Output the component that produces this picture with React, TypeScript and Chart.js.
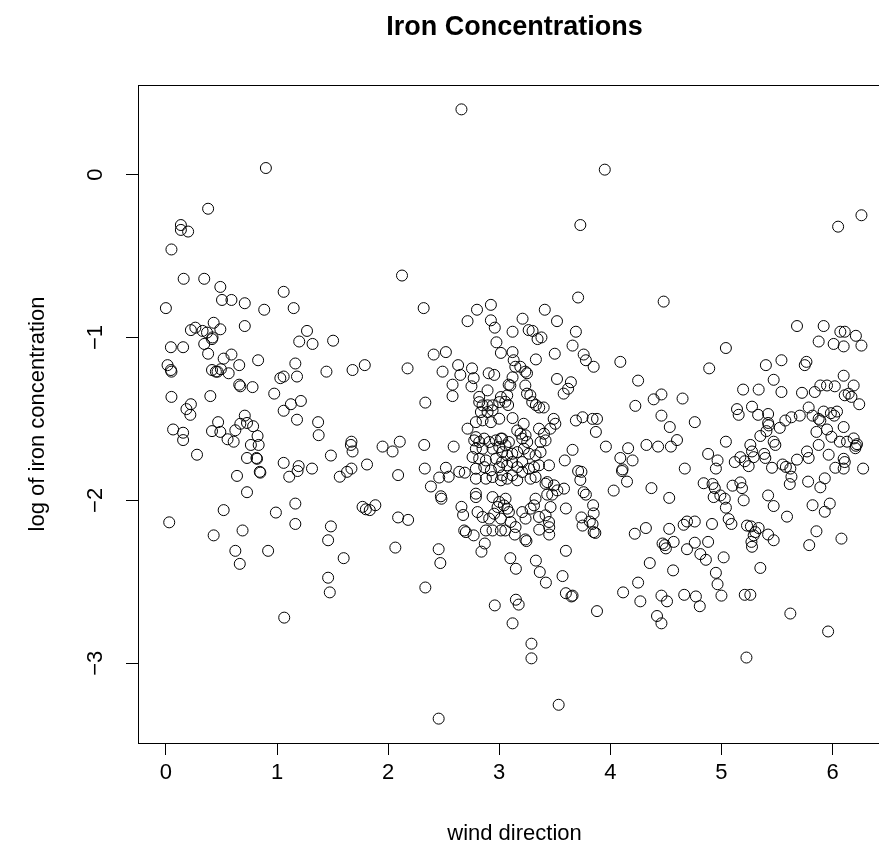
import React, { useEffect, useRef } from "react";
import { Chart, registerables } from "chart.js";

Chart.register(...registerables);

const chartTitle = "Iron Concentrations";
const xAxisLabel = "wind direction";
const yAxisLabel = "log of iron concentration";

const xTicks = [0, 1, 2, 3, 4, 5, 6];
const xTickLabels = ["0", "1", "2", "3", "4", "5", "6"];
const yTicks = [-3, -2, -1, 0];
const yTickLabels = ["\u22123", "\u22122", "\u22121", "0"];

// wind direction (radians)
const windDirection = [
  // top area
  0.90, 0.38, 0.135, 0.135, 0.20, 0.05, 0.16, 0.345, 0.49, 1.06, 0.505, 0.59, 0.71, 0.0, 0.885, 1.15,
  2.66, 2.125, 2.32, 2.80, 2.925, 3.95, 3.73, 3.71, 4.48, 3.41, 6.26, 6.05,
  // west block
  0.43, 0.225, 0.265, 0.33, 0.37, 0.42, 0.415, 0.49, 0.71, 1.27, 1.20, 1.32, 0.045, 0.155, 0.345, 0.38, 0.52, 0.59, 0.66, 0.83,
  1.165, 0.015, 0.045, 0.05, 0.415, 0.45, 0.495, 0.465, 0.565, 1.18, 1.03, 1.06, 0.66, 0.67, 0.78, 0.975, 0.05, 0.40, 0.225, 0.185,
  0.22, 1.215, 1.125, 1.06, 1.18, 1.37, 1.375, 0.71, 0.065, 0.155, 0.155, 0.47, 0.415, 0.49, 0.625, 0.67, 0.73, 0.785, 0.825, 0.555,
  0.61, 0.765, 0.835, 0.28, 0.73, 0.815, 0.82, 0.845, 0.85, 1.06, 1.195, 1.185, 1.11, 1.315, 0.64, 0.73, 0.52, 0.99, 1.165, 1.165, 0.03,
  0.43, 0.69, 0.625, 0.92, 0.665, 1.065,
  // middle block
  2.715, 2.925, 2.96, 2.975, 3.015, 1.505, 2.41, 2.52, 1.445, 1.68, 1.79, 2.175, 2.49, 2.63, 2.65, 2.755, 2.77, 2.58, 2.58, 2.75,
  2.905, 2.955, 2.895, 2.82, 2.335, 1.67, 1.665, 1.68, 1.485, 1.95, 2.04, 2.105, 2.325, 2.59, 1.81, 1.67, 1.63, 1.565, 2.09, 2.33,
  2.52, 2.545, 2.46, 2.64, 2.69, 2.385, 2.475, 2.48, 2.715, 1.77, 1.80, 1.835, 1.885, 2.09, 2.18, 1.485, 2.66, 2.675,
  1.46, 1.60, 1.46, 1.475, 2.065, 2.455, 2.47, 2.335, 2.96, 2.455, 2.685, 2.70, 2.77, 2.88, 2.94, 3.015, 2.87, 2.84,
  // lower middle
  3.055, 3.14, 3.235, 3.245, 3.36, 3.45, 3.45, 3.60, 3.10, 3.15, 3.33, 3.365, 3.42, 3.57, 3.60, 3.65, 3.66, 3.88, 3.15, 3.175,
  3.12, 3.29, 3.29, 3.535, 3.85, 3.865, 3.75, 4.22, 4.32, 4.53, 4.47, 4.49, 4.50, 4.57, 4.69, 4.355, 4.565, 4.25, 4.115, 4.27,
  4.46, 4.51, 4.42, 4.46, 4.665,
  // lower east
  5.335, 5.305, 5.29, 5.27, 5.275, 5.42, 5.47, 5.855, 5.79, 6.08, 4.76, 4.88, 4.81, 4.86, 5.02, 5.35, 4.95, 4.965, 5.00, 4.77,
  4.805, 5.21, 5.26, 5.62, 5.96, 5.225,
  // upper middle-east
  3.21, 3.52, 3.12, 3.265, 3.30, 3.345, 3.38, 3.69, 3.66, 3.12, 3.33, 3.50, 3.76, 3.78, 3.85, 4.09, 3.13, 3.145, 3.19, 3.235,
  3.25, 3.12, 3.10, 3.085, 3.235, 3.52, 3.645, 3.62, 3.58, 4.25, 3.25, 3.28, 3.055, 3.08, 3.33, 3.36, 3.40, 4.225, 4.39, 4.46,
  4.65, 3.12, 3.22, 3.49, 3.505, 3.46, 3.69, 3.75, 3.84, 3.88, 3.87, 4.46, 4.535, 4.60, 4.545, 4.43, 4.325, 4.16, 4.09, 4.20,
  4.11, 4.105, 4.15, 3.96, 3.66, 3.59, 3.71, 3.74, 3.73, 3.76, 3.78, 4.03, 4.37, 4.53, 4.67, 3.60, 3.74, 3.815, 3.84, 3.845,
  3.85, 4.66,
  // east block
  5.68, 5.92, 6.07, 6.11, 6.21, 5.875, 6.01, 6.10, 6.26, 5.04, 4.89, 5.40, 5.54, 5.75, 5.765, 5.47, 5.195, 5.335, 5.54, 5.725,
  5.84, 5.89, 5.95, 6.02, 6.10, 6.19, 6.11, 6.145, 6.17, 6.24, 5.14, 5.155, 5.275, 5.33, 5.42, 5.42, 5.425, 5.525, 5.575, 5.63,
  5.705, 5.785, 5.82, 5.875, 5.89, 5.92, 5.985, 6.04, 6.015, 6.10, 5.855, 5.95, 5.99, 6.065, 6.13, 6.19, 6.21, 6.22, 6.205, 5.875,
  5.965, 5.77, 5.785, 6.10, 6.11, 6.10, 6.025, 6.275, 5.68, 5.78, 5.89, 5.93, 5.82, 5.975, 5.93, 5.59, 5.42, 5.47, 5.455, 5.55,
  5.58, 5.62, 5.63, 5.615, 5.35, 5.26, 5.275, 5.29, 5.385, 5.395, 5.47, 5.485, 5.405, 5.17, 5.12, 5.245, 5.21, 5.04, 4.88, 4.965,
  4.95, 4.76, 4.84, 4.92, 4.94, 5.10, 5.17, 5.185, 4.93, 4.99, 5.03, 5.04, 5.20, 4.69, 4.76, 4.915, 5.065, 5.09, 5.23, 5.265,
  // dense cluster near 3 (west side)
  2.82, 2.85, 2.895, 2.94, 3.0, 3.015, 2.835, 2.895, 2.94, 2.79, 2.85, 2.925, 3.0, 2.79, 2.775, 2.82, 2.865, 2.91, 2.97, 3.015,
  2.79, 2.85, 2.94, 3.0, 2.76, 2.82, 2.88, 2.97, 2.79, 2.865, 2.925, 3.0, 2.79, 2.88, 2.94, 3.015, 2.79, 2.79, 2.94, 3.0,
  2.985, 2.805, 2.85, 2.91, 2.955, 3.015,
  // dense cluster near 3 (east side)
  3.072, 3.297, 3.162, 3.192, 3.237, 3.207, 3.252, 3.358, 3.403, 3.372, 3.417, 3.027, 3.057, 3.087, 3.027, 3.072, 3.117, 3.162, 3.222, 3.268,
  3.327, 3.372, 3.027, 3.072, 3.117, 3.162, 3.207, 3.268, 3.313, 3.358, 3.448, 3.027, 3.072, 3.117, 3.162, 3.207, 3.282, 3.327, 3.417, 3.493,
  3.523, 3.583, 3.432, 3.477, 3.432, 3.057, 3.042, 3.072, 3.087, 3.207, 3.237, 3.282, 3.313, 3.327, 3.358, 3.417, 3.448, 3.462, 3.102, 3.147,
];

// log of iron concentration
const logIron = [
  // top area
  0.04, -0.21, -0.31, -0.34, -0.35, -0.46, -0.64, -0.64, -0.69, -0.72, -0.77, -0.77, -0.79, -0.82, -0.83, -0.82,
  0.40, -0.62, -0.82, -0.83, -0.80, 0.03, -0.31, -0.755, -0.78, -0.83, -0.25, -0.32,
  // west block
  -0.91, -0.955, -0.94, -0.96, -0.97, -1.00, -1.01, -0.95, -0.93, -0.96, -1.025, -1.04, -1.06, -1.06, -1.04, -1.10, -1.13, -1.105, -1.17, -1.14,
  -1.16, -1.17, -1.20, -1.21, -1.20, -1.21, -1.195, -1.21, -1.22, -1.24, -1.25, -1.24, -1.29, -1.30, -1.305, -1.345, -1.365, -1.36, -1.41, -1.44,
  -1.475, -1.39, -1.41, -1.45, -1.505, -1.52, -1.60, -1.48, -1.565, -1.585, -1.63, -1.52, -1.575, -1.58, -1.57, -1.53, -1.525, -1.545, -1.605, -1.625,
  -1.64, -1.66, -1.66, -1.72, -1.74, -1.74, -1.745, -1.825, -1.83, -1.77, -1.79, -1.82, -1.855, -1.805, -1.85, -1.95, -2.06, -2.075, -2.02, -2.145, -2.135,
  -2.215, -2.185, -2.31, -2.31, -2.39, -2.72,
  // middle block
  -0.90, -0.895, -0.94, -1.03, -1.095, -1.02, -1.105, -1.09, -1.21, -1.20, -1.17, -1.19, -1.21, -1.17, -1.23, -1.19, -1.25, -1.29, -1.36, -1.30,
  -1.22, -1.23, -1.325, -1.365, -1.40, -1.64, -1.66, -1.70, -1.725, -1.67, -1.70, -1.64, -1.66, -1.67, -1.78, -1.805, -1.825, -1.855, -1.845, -1.805,
  -1.80, -1.855, -1.86, -1.825, -1.83, -1.915, -1.975, -1.99, -1.56, -2.04, -2.055, -2.06, -2.03, -2.105, -2.12, -2.16, -2.04, -2.09,
  -2.245, -2.355, -2.475, -2.565, -2.29, -2.30, -2.385, -2.535, -2.645, -3.34, -2.185, -2.195, -2.215, -2.185, -2.185, -2.185, -2.265, -2.315,
  // lower middle
  -2.185, -2.21, -2.24, -2.25, -2.18, -2.21, -2.165, -2.31, -2.355, -2.42, -2.37, -2.44, -2.505, -2.465, -2.57, -2.59, -2.585, -2.68, -2.61, -2.64,
  -2.755, -2.88, -2.97, -3.255, -2.195, -2.20, -2.155, -2.205, -2.17, -2.175, -2.265, -2.275, -2.295, -2.255, -2.30, -2.385, -2.43, -2.505, -2.565, -2.62,
  -2.585, -2.62, -2.71, -2.755, -2.58,
  // lower east
  -2.17, -2.195, -2.215, -2.255, -2.285, -2.21, -2.245, -2.19, -2.275, -2.235, -2.26, -2.255, -2.33, -2.365, -2.35, -2.415, -2.445, -2.515, -2.585, -2.59,
  -2.65, -2.58, -2.58, -2.695, -2.805, -2.965,
  // upper middle-east
  -0.885, -0.90, -0.965, -0.955, -0.96, -1.01, -1.00, -0.965, -1.05, -1.09, -1.135, -1.10, -1.105, -1.14, -1.18, -1.15, -1.14, -1.18, -1.18, -1.21,
  -1.22, -1.245, -1.295, -1.29, -1.295, -1.255, -1.275, -1.315, -1.345, -1.265, -1.345, -1.355, -1.395, -1.415, -1.415, -1.43, -1.43, -1.42, -1.38, -1.35,
  -1.375, -1.495, -1.53, -1.50, -1.53, -1.56, -1.51, -1.49, -1.50, -1.50, -1.58, -1.48, -1.55, -1.63, -1.67, -1.67, -1.66, -1.68, -1.74, -1.755,
  -1.81, -1.82, -1.885, -1.67, -1.69, -1.755, -1.82, -1.825, -1.875, -1.95, -1.965, -1.94, -1.925, -1.985, -1.805, -2.05, -2.105, -2.13, -2.145, -2.03,
  -2.08, -2.15,
  // east block
  -0.93, -0.93, -0.965, -0.965, -0.99, -1.025, -1.04, -1.055, -1.05, -1.065, -1.19, -1.17, -1.14, -1.17, -1.15, -1.26, -1.32, -1.32, -1.335, -1.34,
  -1.335, -1.295, -1.295, -1.30, -1.235, -1.295, -1.355, -1.345, -1.365, -1.41, -1.44, -1.475, -1.425, -1.475, -1.47, -1.525, -1.54, -1.555, -1.51, -1.49,
  -1.48, -1.43, -1.48, -1.50, -1.51, -1.455, -1.465, -1.455, -1.48, -1.55, -1.58, -1.565, -1.61, -1.64, -1.64, -1.62, -1.665, -1.655, -1.68, -1.66,
  -1.72, -1.70, -1.74, -1.745, -1.765, -1.805, -1.80, -1.805, -1.75, -1.885, -1.92, -1.865, -2.03, -2.02, -2.07, -2.10, -1.97, -2.035, -1.80, -1.78,
  -1.795, -1.805, -1.855, -1.90, -1.605, -1.66, -1.70, -1.735, -1.715, -1.74, -1.64, -1.66, -1.575, -1.735, -1.765, -1.79, -1.76, -1.64, -1.715, -1.755,
  -1.805, -1.52, -1.895, -1.90, -1.925, -1.91, -1.89, -1.925, -1.98, -1.97, -1.99, -2.045, -2.00, -2.13, -2.13, -2.145, -2.115, -2.145, -2.155, -2.16,
  // dense cluster near 3 (west side)
  -1.397, -1.417, -1.417, -1.417, -1.397, -1.366, -1.458, -1.458, -1.448, -1.52, -1.509, -1.52, -1.499, -1.612, -1.632, -1.642, -1.621, -1.642, -1.632, -1.621,
  -1.683, -1.683, -1.683, -1.673, -1.734, -1.744, -1.755, -1.744, -1.806, -1.796, -1.816, -1.796, -1.867, -1.867, -1.857, -1.877, -1.959, -1.98, -1.98, -2.01,
  -2.041, -2.072, -2.102, -2.112, -2.082, -2.112,
  // dense cluster near 3 (east side)
  -1.356, -1.397, -1.571, -1.591, -1.601, -1.621, -1.642, -1.56, -1.591, -1.642, -1.632, -1.621, -1.663, -1.642, -1.704, -1.724, -1.714, -1.704, -1.683, -1.714,
  -1.724, -1.704, -1.765, -1.785, -1.765, -1.796, -1.765, -1.806, -1.796, -1.785, -1.785, -1.847, -1.867, -1.847, -1.877, -1.826, -1.867, -1.857, -1.898, -1.908,
  -1.939, -1.928, -1.965, -1.965, -1.888, -1.99, -2.031, -2.051, -2.072, -2.072, -2.112, -2.051, -2.031, -1.99, -2.102, -2.092, -2.133, -2.041, -2.133, -2.164,
];

const FONT = '"Liberation Sans", Arial, Helvetica, sans-serif';
const AXIS_FONT_PX = 22;
const TITLE_FONT_PX = 27;
const CANVAS_W = 905;
const CANVAS_H = 868;

const rTextPlugin = {
  id: "rText",
  afterDraw(chart: any) {
    const { ctx, chartArea, scales } = chart;
    const xs = scales.x;
    const ys = scales.y;
    ctx.save();
    // plot box
    ctx.strokeStyle = "#000";
    ctx.lineWidth = 1;
    ctx.strokeRect(
      Math.round(chartArea.left) + 0.5,
      Math.round(chartArea.top) + 0.5,
      Math.round(chartArea.right - chartArea.left),
      Math.round(chartArea.bottom - chartArea.top)
    );
    ctx.fillStyle = "#000";
    ctx.font = `${AXIS_FONT_PX}px ${FONT}`;
    ctx.textAlign = "center";
    ctx.textBaseline = "middle";
    xTicks.forEach((v, i) => {
      ctx.fillText(xTickLabels[i], xs.getPixelForValue(v), 773);
    });
    yTicks.forEach((v, i) => {
      ctx.save();
      ctx.translate(96, ys.getPixelForValue(v));
      ctx.rotate(-Math.PI / 2);
      ctx.fillText(yTickLabels[i], 0, 0);
      ctx.restore();
    });
    const cx = (chartArea.left + chartArea.right) / 2;
    const cy = (chartArea.top + chartArea.bottom) / 2;
    ctx.fillText(xAxisLabel, cx, 834);
    ctx.save();
    ctx.translate(38, cy);
    ctx.rotate(-Math.PI / 2);
    ctx.fillText(yAxisLabel, 0, 0);
    ctx.restore();
    ctx.font = `bold ${TITLE_FONT_PX}px ${FONT}`;
    ctx.fillText(chartTitle, cx, 28);
    ctx.restore();
  },
};

export default function App() {
  const canvasRef = useRef<HTMLCanvasElement | null>(null);

  useEffect(() => {
    const canvas = canvasRef.current;
    if (!canvas) return;
    const n = Math.min(windDirection.length, logIron.length);
    const points = [];
    for (let i = 0; i < n; i++) points.push({ x: windDirection[i], y: logIron[i] });

    const xMin = Math.min(...windDirection);
    const xMax = Math.max(...windDirection);
    const yMin = Math.min(...logIron);
    const yMax = Math.max(...logIron);
    const xPad = 0.04 * (xMax - xMin);
    const yPad = 0.04 * (yMax - yMin);

    const axisCommon = {
      type: "linear" as const,
      ticks: { display: false },
      grid: {
        drawOnChartArea: false,
        drawTicks: true,
        tickLength: 12,
        color: "#000",
        lineWidth: 1,
      },
      border: { display: true, color: "#000", width: 1 },
    };

    const chart = new Chart(canvas, {
      type: "scatter",
      data: {
        datasets: [
          {
            data: points,
            pointStyle: "circle",
            pointRadius: 5.5,
            pointHoverRadius: 5.5,
            borderWidth: 1,
            borderColor: "#000",
            backgroundColor: "rgba(0,0,0,0)",
          },
        ],
      },
      options: {
        animation: false,
        responsive: false,
        devicePixelRatio: 1,
        events: [],
        layout: { padding: { left: 0, top: 85, right: CANVAS_W - 891, bottom: 0 } },
        plugins: { legend: { display: false }, tooltip: { enabled: false }, title: { display: false } },
        scales: {
          x: {
            ...axisCommon,
            min: xMin - xPad,
            max: xMax + xPad,
            afterBuildTicks: (s: any) => {
              s.ticks = xTicks.map((v) => ({ value: v }));
            },
            afterFit: (s: any) => {
              s.height = CANVAS_H - 743;
            },
          },
          y: {
            ...axisCommon,
            min: yMin - yPad,
            max: yMax + yPad,
            afterBuildTicks: (s: any) => {
              s.ticks = yTicks.map((v) => ({ value: v }));
            },
            afterFit: (s: any) => {
              s.width = 138;
            },
          },
        },
      },
      plugins: [rTextPlugin],
    });
    return () => chart.destroy();
  }, []);

  return (
    <div
      style={{
        position: "fixed",
        left: 0,
        top: 0,
        width: 879,
        height: 868,
        overflow: "hidden",
        background: "#fff",
      }}
    >
      <canvas
        ref={canvasRef}
        width={CANVAS_W}
        height={CANVAS_H}
        style={{ width: CANVAS_W, height: CANVAS_H, display: "block" }}
      />
    </div>
  );
}
